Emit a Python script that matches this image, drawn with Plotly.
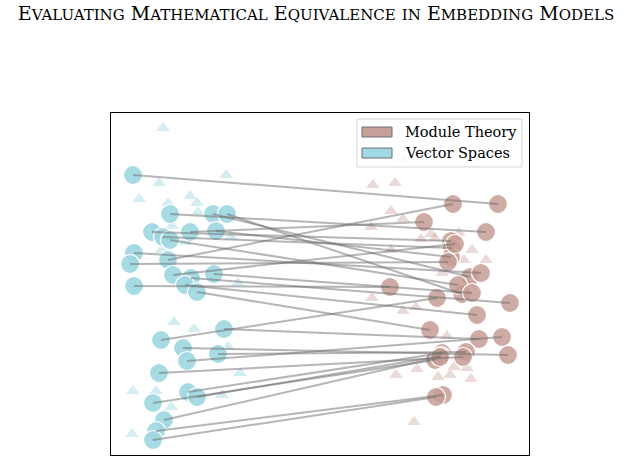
import plotly.graph_objects as go

# Paired embeddings: Vector Spaces (blue circles) -> Module Theory (brown circles)
vs_x = [133, 168, 170, 213, 227, 152, 163, 170, 190, 216, 134, 130, 173, 214, 191,
        185, 197, 134, 224, 161, 183, 187, 218, 159, 188, 197, 153, 164, 156, 153]
vs_y = [175, 260, 214, 214, 214, 232, 237, 240, 232, 231, 253, 264, 275, 274, 278,
        285, 292, 286, 329, 340, 348, 361, 354, 373, 392, 397, 403, 420, 431, 440]
mt_x = [498, 453, 486, 470, 462, 451, 452, 458, 424, 451, 481, 448, 455, 472, 510,
        477, 430, 390, 479, 437, 508, 502, 466, 463, 442, 441, 435, 440, 443, 436]
mt_y = [204, 204, 232, 277, 294, 241, 248, 285, 222, 257, 273, 262, 244, 293, 303,
        315, 330, 287, 339, 298, 355, 337, 352, 357, 353, 356, 360, 357, 395, 397]

# Unpaired background samples (triangles)
vs_tri_x = [163, 226, 159, 139, 168, 190, 197, 198, 172, 231, 185, 162, 238,
            174, 194, 228, 240, 133, 156, 171, 222, 132]
vs_tri_y = [128, 175, 183, 199, 203, 196, 203, 212, 226, 237, 242, 250, 283,
            322, 329, 347, 373, 391, 391, 407, 395, 434]
mt_tri_x = [403, 373, 395, 391, 403, 371, 421, 431, 435, 459, 391, 472, 464, 486, 442,
            372, 403, 416, 447, 396, 417, 438, 450, 454, 467, 471, 414]
mt_tri_y = [160, 185, 183, 211, 219, 227, 239, 234, 238, 233, 250, 250, 260, 260, 273,
            298, 311, 307, 336, 375, 369, 377, 375, 367, 368, 379, 422]

series_names = ["Module Theory", "Vector Spaces"]

BLUE = "rgba(160,216,226,0.92)"
BROWN = "rgba(198,156,148,0.85)"
BLUE_T = "rgba(160,216,226,0.45)"
BROWN_T = "rgba(196,152,143,0.35)"
PATCH = ["rgb(198,160,152)", "rgb(160,216,228)"]

fig = go.Figure()

fig.add_trace(go.Scatter(x=vs_tri_x, y=vs_tri_y, mode="markers", showlegend=False,
                         marker=dict(symbol="triangle-up", size=12, color=BLUE_T,
                                     line=dict(width=0))))
fig.add_trace(go.Scatter(x=mt_tri_x, y=mt_tri_y, mode="markers", showlegend=False,
                         marker=dict(symbol="triangle-up", size=12, color=BROWN_T,
                                     line=dict(width=0))))
fig.add_trace(go.Scatter(x=vs_x, y=vs_y, mode="markers", showlegend=False,
                         name=series_names[1],
                         marker=dict(symbol="circle", size=19, color=BLUE,
                                     line=dict(width=1.2, color="white"))))
fig.add_trace(go.Scatter(x=mt_x, y=mt_y, mode="markers", showlegend=False,
                         name=series_names[0],
                         marker=dict(symbol="circle", size=19, color=BROWN,
                                     line=dict(width=1.2, color="white"))))

lx, ly = [], []
for a, b, c, d in zip(vs_x, vs_y, mt_x, mt_y):
    lx += [a, c, None]
    ly += [b, d, None]
fig.add_trace(go.Scatter(x=lx, y=ly, mode="lines", showlegend=False,
                         line=dict(color="rgba(110,110,110,0.5)", width=2)))

# Hand-drawn legend box (matplotlib-style patches)
shapes = [dict(type="rect", xref="x", yref="y", x0=357, x1=522, y0=119, y1=167,
               fillcolor="rgba(255,255,255,0.85)", line=dict(color="rgb(215,215,215)", width=1),
               layer="above")]
annotations = []
for i, name in enumerate(series_names):
    yc = 132 + i * 21
    shapes.append(dict(type="rect", xref="x", yref="y", x0=362, x1=392, y0=yc - 5, y1=yc + 5,
                       fillcolor=PATCH[i], line=dict(color="rgb(110,110,110)", width=1),
                       layer="above"))
    annotations.append(dict(x=403, y=yc, xref="x", yref="y", text=name, showarrow=False,
                            xanchor="left", yanchor="middle",
                            font=dict(family="DejaVu Serif", size=14.5, color="black")))


def small_caps(s, small=15):
    out = []
    for w in s.split(" "):
        if not w:
            continue
        first, rest = w[0], w[1:]
        if first.isupper():
            piece = first
        else:
            piece = f'<span style="font-size:{small}px">{first.upper()}</span>'
        if rest:
            piece += f'<span style="font-size:{small}px">{rest.upper()}</span>'
        out.append(piece)
    return " ".join(out)


title = small_caps("Evaluating Mathematical Equivalence in Embedding Models")

fig.update_layout(
    width=632, height=462,
    margin=dict(l=111, r=103, t=113, b=7),
    paper_bgcolor="white", plot_bgcolor="white",
    title=dict(text=title, x=0.5, xanchor="center", y=0.972, yanchor="middle",
               font=dict(family="DejaVu Serif", size=19, color="black")),
    xaxis=dict(range=[111, 529], showgrid=False, zeroline=False, showticklabels=False,
               ticks="", showline=True, linecolor="black", linewidth=1.2, mirror=True),
    yaxis=dict(range=[455, 113], showgrid=False, zeroline=False, showticklabels=False,
               ticks="", showline=True, linecolor="black", linewidth=1.2, mirror=True),
    shapes=shapes,
    annotations=annotations,
    showlegend=False,
)

fig.write_html("out.html")
